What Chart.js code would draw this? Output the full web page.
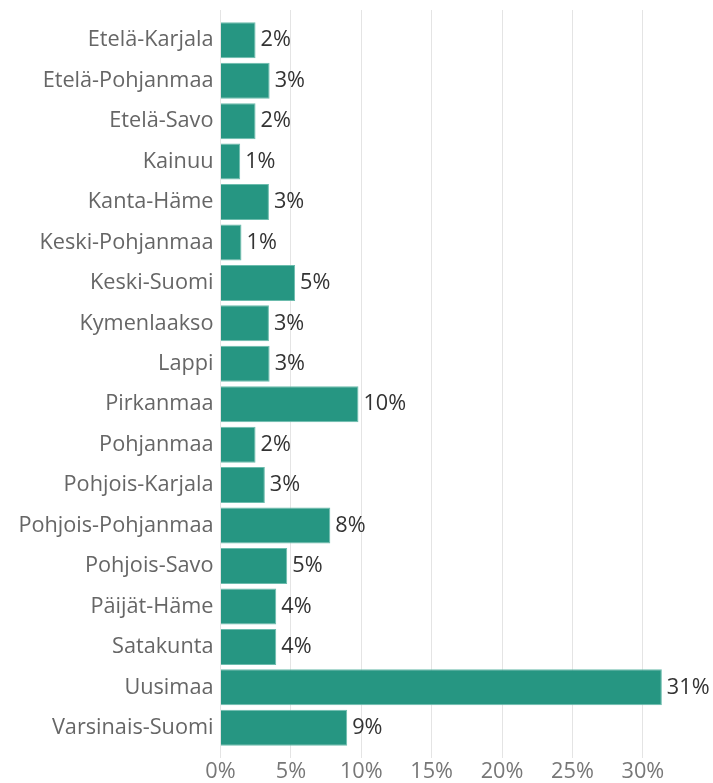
<html lang="fi">
<head>
<meta charset="utf-8"/>
<style>
  body { margin: 0; background: #fff; }
  #wrap { width: 713px; height: 783px; }
</style>
</head>
<body>
<div id="wrap">
  <canvas id="myChart"></canvas>
</div>

<script src="https://cdn.jsdelivr.net/npm/chart.js"></script>
<script>
  var maakunnat = ["Etelä-Karjala", "Etelä-Pohjanmaa", "Etelä-Savo", "Kainuu", "Kanta-Häme",
    "Keski-Pohjanmaa", "Keski-Suomi", "Kymenlaakso", "Lappi", "Pirkanmaa", "Pohjanmaa",
    "Pohjois-Karjala", "Pohjois-Pohjanmaa", "Pohjois-Savo", "Päijät-Häme", "Satakunta",
    "Uusimaa", "Varsinais-Suomi"];
  var osuudet = [2.49, 3.49, 2.49, 1.4, 3.44, 1.49, 5.3, 3.44, 3.49, 9.8, 2.49,
    3.15, 7.8, 4.74, 3.96, 3.96, 31.35, 9.0];
  var xTicks = [0, 5, 10, 15, 20, 25, 30];

  var fontName = "'Open Sans', sans-serif";
  var fontSize = 21.7;

  // prosenttiluku palkin perään
  var valueLabels = {
    id: "valueLabels",
    afterDatasetsDraw: function (chart) {
      var c = chart.ctx;
      var meta = chart.getDatasetMeta(0);
      c.save();
      c.font = fontSize + "px " + fontName;
      c.fillStyle = "#333";
      c.textAlign = "left";
      c.textBaseline = "middle";
      meta.data.forEach(function (bar, i) {
        c.fillText(Math.round(osuudet[i]) + "%", bar.x + 5, bar.y);
      });
      c.restore();
    }
  };

  function onlyTicks(axis) {
    axis.ticks = xTicks.map(function (v) { return { value: v }; });
  }

  var ctx = document.getElementById("myChart");
  var myChart = new Chart(ctx, {
    type: "bar",
    data: {
      labels: maakunnat,
      datasets: [{
        data: osuudet,
        backgroundColor: "#269682",
        borderColor: "#6cbcad",
        borderWidth: 1,
        barPercentage: 1,
        categoryPercentage: 0.89
      }]
    },
    options: {
      indexAxis: "y",
      responsive: true,
      maintainAspectRatio: false,
      animation: false,
      layout: { padding: { top: 0, right: 42, bottom: 0, left: 0 } },
      plugins: {
        legend: { display: false },
        tooltip: { enabled: false }
      },
      scales: {
        x: {
          min: 0,
          max: 32,
          afterBuildTicks: onlyTicks,
          afterFit: function (s) { s.height = 35; },
          grid: { color: "#e4e4e4", tickLength: 10 },
          border: { display: false },
          ticks: {
            padding: 1,
            color: "#777",
            font: { family: fontName, size: fontSize },
            callback: function (v) { return v + "%"; }
          }
        },
        x2: {
          position: "top",
          min: 0,
          max: 32,
          afterBuildTicks: onlyTicks,
          afterFit: function (s) { s.height = 18; },
          grid: { color: "#e4e4e4", tickLength: 10, drawOnChartArea: false },
          border: { display: false },
          ticks: { display: false }
        },
        y: {
          afterFit: function (s) { s.width = 220.5; },
          grid: { display: false, drawTicks: false },
          border: { display: false },
          ticks: {
            padding: 7,
            color: "#666",
            font: { family: fontName, size: fontSize }
          }
        }
      }
    },
    plugins: [valueLabels]
  });
</script>
</body>
</html>
